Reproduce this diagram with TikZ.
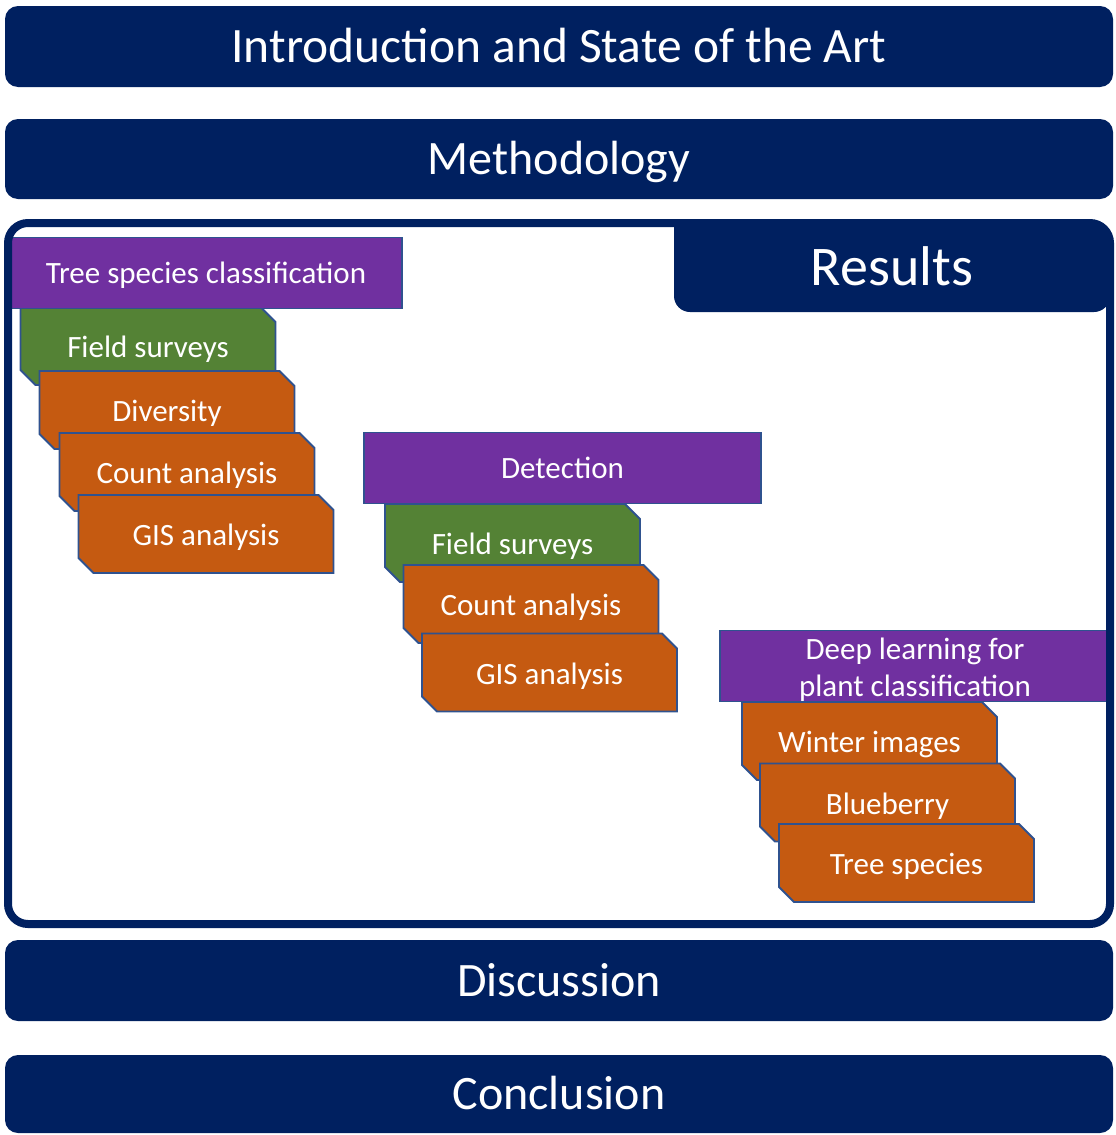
\documentclass[tikz,border=0pt]{standalone}
\usepackage{fontspec}
\setmainfont{Carlito}
\usepackage{tikz}
\usetikzlibrary{shapes.misc}

\definecolor{navy}{HTML}{002060}
\definecolor{headpurple}{HTML}{7030A0}
\definecolor{fieldgreen}{HTML}{548235}
\definecolor{taskorange}{HTML}{C55A11}
\definecolor{edgeblue}{HTML}{2F528F}

\tikzset{
  bar/.style={fill=navy, rounded corners=13pt, minimum width=1108pt, text=white,
    font=\fontsize{48}{58}\selectfont, text height=31pt, text depth=0pt},
  head/.style={fill=headpurple, draw=edgeblue, line width=1.8pt, text=white,
    minimum height=71pt, font=\fontsize{31}{37}\selectfont, text height=20pt, text depth=0pt},
  card/.style={chamfered rectangle, chamfered rectangle corners={north east,south west},
    chamfered rectangle xsep=7.5pt, chamfered rectangle ysep=7.5pt,
    draw=edgeblue, line width=1.8pt, text=white, minimum width=255pt, minimum height=78pt,
    inner sep=0pt, font=\fontsize{31}{37}\selectfont, text height=23pt, text depth=0pt},
  fieldcard/.style={card, fill=fieldgreen},
  taskcard/.style={card, fill=taskorange}
}

\begin{document}
\begin{tikzpicture}[x=1pt,y=-1pt]
\useasboundingbox (0,0) rectangle (1116,1135);

\node[bar, minimum height=81pt, font=\fontsize{49.5}{60}\selectfont] (intro) at (559,46.5) {Introduction and State of the Art};
\node[bar, minimum height=80pt] (method) at (559,159) {Methodology};
\node[bar, minimum height=81pt] (discuss) at (559,980.5) {Discussion};
\node[bar, minimum height=78pt] (concl) at (559,1094) {Conclusion};

% tree species classification
\node[fieldcard] (tsfield) at (148,346) {Field surveys};
\node[taskcard] (tsdiv) at (167,410) {Diversity};
\node[taskcard] (tscount) at (187,472) {Count analysis};
\node[taskcard] (tsgis) at (206,534) {GIS analysis};
\node[head, minimum width=392pt] (tshead) at (206,273) {Tree species classification};

% detection
\node[fieldcard] (detfield) at (512.5,543) {Field surveys};
\node[taskcard] (detcount) at (531,604) {Count analysis};
\node[taskcard] (detgis) at (549.5,672.5) {GIS analysis};
\node[head, minimum width=397pt] (dethead) at (562.5,468) {Detection};

% deep learning
\node[taskcard] (dlwinter) at (869.5,741) {Winter images};
\node[taskcard] (dlblue) at (887.5,802.5) {Blueberry};
\node[taskcard] (dltree) at (906.5,863) {Tree species};
\node[head, minimum width=390pt, align=center, text height=60pt] (dlhead) at (915,666)
  {Deep learning for\\plant classification};

% results frame and tab
\node[fill=navy, rounded corners=16pt, minimum width=436pt, minimum height=89pt, text=white,
  font=\fontsize{56}{66}\selectfont, text height=36pt, text depth=0pt] (restab) at (892,267.5) {Results};
\fill[navy] (restab.north west) rectangle +(26,26);
\node[draw=navy, line width=8pt, rounded corners=20pt, minimum width=1102pt, minimum height=701pt]
  (results) at (559,573.5) {};
\end{tikzpicture}
\end{document}
